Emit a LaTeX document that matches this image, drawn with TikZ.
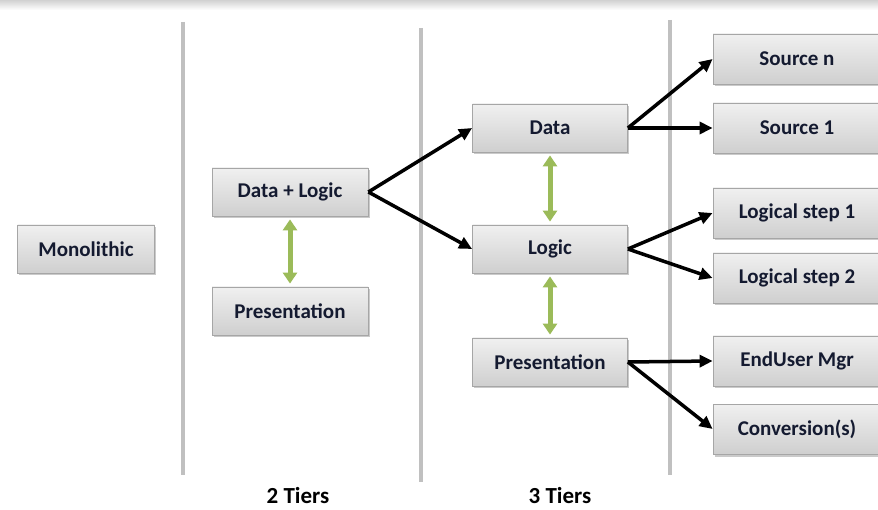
\documentclass[tikz,border=0pt]{standalone}
\usepackage{fontspec}
\setmainfont{Carlito}
\usetikzlibrary{arrows.meta,shadows}
\definecolor{boxtop}{HTML}{F0F0F0}
\definecolor{boxbot}{HTML}{CFCFCF}
\definecolor{boxline}{HTML}{A6A6A6}
\definecolor{sep}{HTML}{C0C0C0}
\definecolor{grn}{HTML}{9BBB59}
\definecolor{txt}{HTML}{141A30}
\tikzset{
  tbox/.style={draw=boxline, line width=0.8pt, top color=boxtop, bottom color=boxbot,
    minimum height=48pt, inner sep=0pt, font=\fontsize{21}{24}\selectfont\bfseries, text=txt,
    drop shadow={shadow xshift=1.5pt, shadow yshift=-2.5pt, opacity=0.35, fill=black!60}},
  sepline/.style={draw=sep, line width=4pt},
  blk/.style={draw=black, line width=3.5pt, -{Triangle[length=13pt,width=12pt]}},
  gar/.style={draw=grn, line width=5pt, {Triangle[length=11pt,width=14pt]}-{Triangle[length=11pt,width=14pt]}, shorten <=3pt, shorten >=3pt},
  tier/.style={font=\fontsize{23}{26}\selectfont\bfseries, text=black, inner sep=1pt}
}
\begin{document}
\begin{tikzpicture}[x=1pt,y=-1pt]
\useasboundingbox (0,0) rectangle (878,510);
\shade[top color=black!18, bottom color=white] (0,0) rectangle (878,10);
% separators
\draw[sepline] (183,22) -- (183,475);
\draw[sepline] (421,28) -- (421,482);
\draw[sepline] (670,20) -- (670,475);
% boxes
\node[tbox, minimum width=137pt] (mono) at (86,249) {Monolithic};
\node[tbox, minimum width=156pt] (dl) at (290,192) {Data + Logic};
\node[tbox, minimum width=156pt] (p2) at (290,311) {Presentation};
\node[tbox, minimum width=155pt] (data) at (550,128) {Data};
\node[tbox, minimum width=155pt] (logic) at (550,249) {Logic};
\node[tbox, minimum width=155pt] (p3) at (550,362) {Presentation};
\node[tbox, minimum width=168pt, minimum height=50pt] (srcn) at (797,59) {Source n};
\node[tbox, minimum width=168pt, minimum height=50pt] (src1) at (797,128) {Source 1};
\node[tbox, minimum width=168pt, minimum height=50pt] (ls1) at (797,213) {Logical step 1};
\node[tbox, minimum width=168pt, minimum height=50pt] (ls2) at (797,278) {Logical step 2};
\node[tbox, minimum width=168pt, minimum height=50pt] (eu) at (797,361) {EndUser Mgr};
\node[tbox, minimum width=168pt, minimum height=50pt] (conv) at (797,429) {Conversion(s)};
% black arrows
\draw[blk] (dl.east) -- (data.west);
\draw[blk] (dl.east) -- (logic.west);
\draw[blk] (data.east) -- (srcn.west);
\draw[blk] (data.east) -- (src1.west);
\draw[blk] (logic.east) -- (ls1.west);
\draw[blk] (logic.east) -- (ls2.west);
\draw[blk] (p3.east) -- (eu.west);
\draw[blk] (p3.east) -- (conv.west);
% green arrows
\draw[gar] (dl.south) -- (p2.north);
\draw[gar] (data.south) -- (logic.north);
\draw[gar] (logic.south) -- (p3.north);
% tier labels
\node[tier] (t2) at (298,496) {2 Tiers};
\node[tier] (t3) at (560,496) {3 Tiers};
\end{tikzpicture}
\end{document}
